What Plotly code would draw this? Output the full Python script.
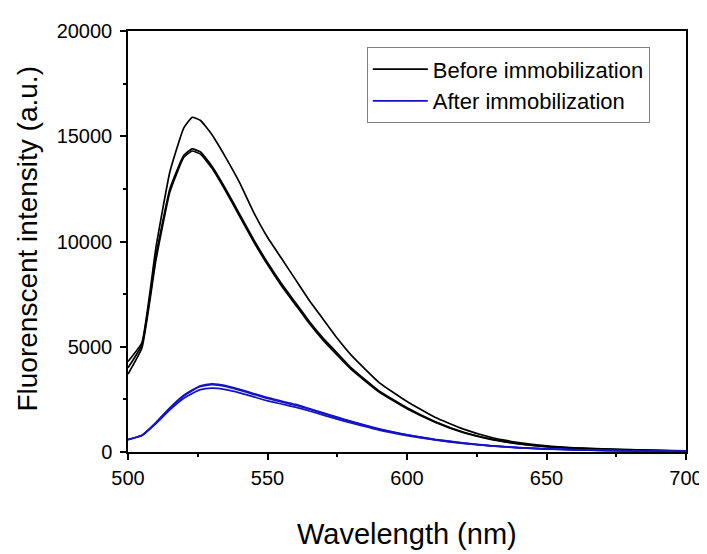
import plotly.graph_objects as go

wavelength = [500, 505, 510, 515, 520, 523, 526, 530, 535, 540, 545, 550, 555, 560, 565,
              570, 575, 580, 590, 600, 610, 620, 630, 640, 650, 660, 670, 680, 690, 700]

before_1 = [4300, 5200, 9700, 13300, 15400, 15900, 15750, 15100, 14000, 12800, 11400, 10200, 9200, 8200, 7200,
            6300, 5400, 4600, 3300, 2400, 1650, 1100, 700, 450, 290, 200, 150, 110, 80, 50]
before_2 = [4000, 5100, 9300, 12500, 14100, 14400, 14250, 13600, 12500, 11300, 10100, 9000, 8000, 7100, 6200,
            5400, 4700, 4000, 2900, 2100, 1450, 950, 620, 400, 260, 180, 140, 100, 70, 45]
before_3 = [3700, 4950, 9100, 12350, 14000, 14300, 14150, 13500, 12400, 11200, 10000, 8900, 7900, 7000, 6100,
            5300, 4600, 3920, 2850, 2050, 1420, 930, 600, 390, 250, 170, 130, 95, 65, 40]

after_1 = [600, 800, 1400, 2100, 2700, 2950, 3150, 3240, 3160, 2980, 2780, 2580, 2420, 2260, 2060,
           1860, 1660, 1460, 1100, 820, 600, 430, 300, 210, 150, 110, 80, 60, 40, 30]
after_2 = [590, 790, 1380, 2070, 2660, 2910, 3110, 3200, 3120, 2940, 2740, 2540, 2380, 2220, 2030,
           1830, 1630, 1440, 1080, 810, 590, 420, 295, 205, 145, 105, 78, 58, 38, 28]
after_3 = [580, 780, 1350, 2000, 2550, 2780, 2960, 3030, 2960, 2810, 2620, 2430, 2280, 2130, 1950,
           1750, 1560, 1380, 1040, 780, 570, 405, 285, 200, 140, 100, 75, 55, 36, 26]

legend_before = "Before immobilization"
legend_after = "After immobilization"
x_title = "Wavelength (nm)"
y_title = "Fluorenscent intensity (a.u.)"

BLACK = "#000000"
BLUE = "#1414c4"
FONT = "Arial, Liberation Sans, sans-serif"

fig = go.Figure()
for i, ys in enumerate([before_1, before_2, before_3]):
    fig.add_trace(go.Scatter(x=wavelength, y=ys, mode="lines", name=legend_before,
                             legendgroup="before", showlegend=(i == 0),
                             line=dict(color=BLACK, width=1.7, shape="spline", smoothing=0.4)))
for i, ys in enumerate([after_1, after_2, after_3]):
    fig.add_trace(go.Scatter(x=wavelength, y=ys, mode="lines", name=legend_after,
                             legendgroup="after", showlegend=(i == 0),
                             line=dict(color=BLUE, width=1.7, shape="spline", smoothing=0.4)))

axis_common = dict(showline=True, linecolor="black", linewidth=1.5, mirror=True,
                   ticks="outside", ticklen=6, tickwidth=1.5, tickcolor="black",
                   showgrid=False, zeroline=False,
                   tickfont=dict(family=FONT, size=20, color="black"))

fig.update_xaxes(range=[500, 700], dtick=50, tick0=500, ticklabelstandoff=1,
                 minor=dict(ticks="outside", ticklen=3, tickwidth=1.5, tickcolor="black", dtick=25),
                 **axis_common)
fig.update_yaxes(range=[0, 20000], dtick=5000, tick0=0, tickformat="d", ticklabelstandoff=4,
                 minor=dict(ticks="outside", ticklen=3, tickwidth=1.5, tickcolor="black", dtick=2500),
                 **axis_common)

fig.add_annotation(text=x_title, xref="paper", yref="paper", x=0.5, y=-0.194,
                   xanchor="center", yanchor="middle", showarrow=False,
                   font=dict(family=FONT, size=29, color="black"))
fig.add_annotation(text=y_title, xref="paper", yref="paper", x=-0.18, y=0.506,
                   xanchor="center", yanchor="middle", showarrow=False, textangle=-90,
                   font=dict(family=FONT, size=28, color="black"))

fig.update_layout(
    width=707, height=554,
    margin=dict(l=120, r=25, t=16, b=110),
    plot_bgcolor="white", paper_bgcolor="white",
    font=dict(family=FONT, color="black"),
    legend=dict(x=0.428, y=0.961, xanchor="left", yanchor="top",
                bordercolor="#808080", borderwidth=1, bgcolor="white",
                font=dict(family=FONT, size=22, color="black"),
                itemwidth=55, tracegroupgap=0),
    showlegend=True,
)

fig.write_html("out.html")
